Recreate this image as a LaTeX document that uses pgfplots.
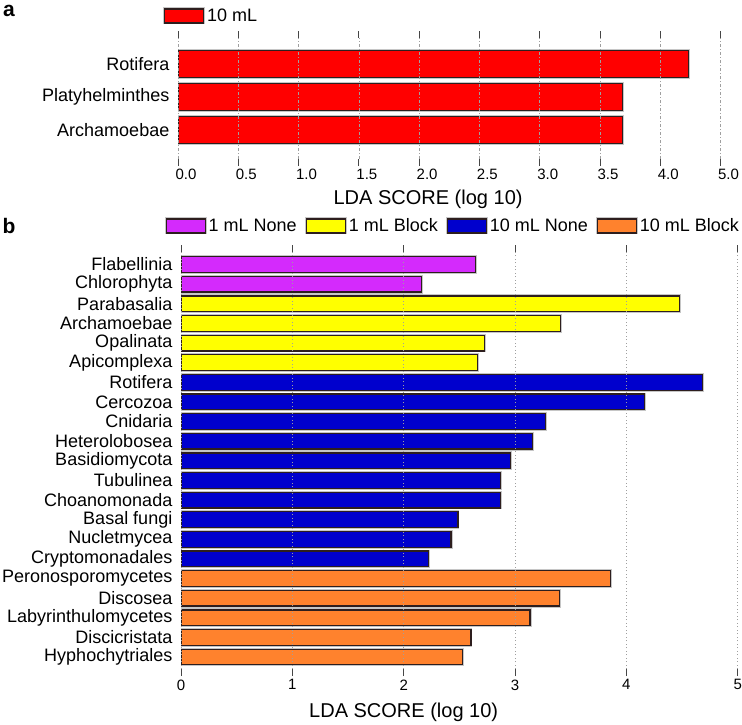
\documentclass[border=0pt]{standalone}
\usepackage{pgfplots}
\pgfplotsset{compat=1.18}
\usepackage{fontspec}
\setmainfont{Liberation Sans}
\definecolor{cRed}{RGB}{255,0,0}
\definecolor{cPurple}{RGB}{212,42,252}
\definecolor{cYellow}{RGB}{255,255,0}
\definecolor{cBlue}{RGB}{0,0,205}
\definecolor{cOrange}{RGB}{255,130,45}
\definecolor{cEdge}{RGB}{45,30,30}
\newcommand{\fs}[1]{\fontsize{#1bp}{#1bp}\selectfont}
\pgfplotsset{
  barstyle/.style={draw=cEdge, line width=1.2bp, preaction={draw=gray!45, line width=3bp}},
  boxlegend/.style={legend image code/.code={\draw[##1, line width=1.2bp] (0bp,-7bp) rectangle (39bp,7bp);}},
  common/.style={
    scale only axis, xbar, bar shift=0pt,
    axis line style={draw=none},
    tick align=outside, major tick length=7bp,
    xtick pos=both, xticklabel pos=lower,
    ytick pos=left,
    xtick style={draw=gray!55!black, line width=0.8bp},
    ytick style={draw=none},
    xmajorgrids, axis on top,
    yticklabel style={font=\fs{18}, inner sep=0pt, xshift=-1.5bp},
    xticklabel style={font=\fs{15}},
    xlabel style={font=\fs{20}, anchor=center},
    legend style={draw=none, fill=none, inner sep=0pt, font=\fs{18},
      nodes={inner sep=2bp}, anchor=west,
      /tikz/every even column/.append style={column sep=6bp}},
    legend cell align=left,
  },
}
\begin{document}
\begin{tikzpicture}[x=1bp,y=1bp]
\useasboundingbox (0,-725) rectangle (742,0);
\node[font=\bfseries\fs{21}] at (9,-11) {a};
\node[font=\bfseries\fs{21}] at (9,-226) {b};

\begin{axis}[common,
  at={(178bp,-159bp)}, anchor=south west,
  width=542.5bp, height=121bp,
  bar width=0.81,
  xmin=0, xmax=4.5, ymin=-0.88, ymax=2.79,
  xtick={0,0.5,1,1.5,2,2.5,3,3.5,4,4.5},
  xticklabels={0.0,0.5,1.0,1.5,2.0,2.5,3.0,3.5,4.0,5.0},
  xticklabel style={xshift=8bp},
  ytick={0,1,2},
  yticklabels={Archamoebae,Platyhelminthes,Rotifera},
  major grid style={draw=gray!75, line width=0.6bp, dash pattern=on 3bp off 2bp on 1bp off 2bp},
  xlabel={LDA SCORE (log 10)},
  xlabel style={at={(axis description cs:0.461,-0.33)}},
  legend style={at={(axis description cs:-0.0276,1.182)}},
]
\addplot[barstyle, fill=cRed, boxlegend] coordinates {(3.685,0) (3.687,1) (4.235,2)};
\addlegendentry{10 mL}
\end{axis}

\begin{axis}[common,
  at={(181bp,-669bp)}, anchor=south west,
  width=556.7bp, height=417bp,
  bar width=0.8,
  xmin=0, xmax=5, ymin=-0.61, ymax=20.64,
  xtick={0,1,2,3,4,5},
  xticklabels={0,1,2,3,4,5},
  ytick={0,...,20},
  yticklabels={Hyphochytriales,Discicristata,Labyrinthulomycetes,Discosea,Peronosporomycetes,Cryptomonadales,Nucletmycea,Basal fungi,Choanomonada,Tubulinea,Basidiomycota,Heterolobosea,Cnidaria,Cercozoa,Rotifera,Apicomplexa,Opalinata,Archamoebae,Parabasalia,Chlorophyta,Flabellinia},
  major grid style={draw=gray!75, line width=0.7bp, dash pattern=on 1bp off 2.5bp},
  xlabel={LDA SCORE (log 10)},
  xlabel style={at={(axis description cs:0.40,-0.103)}},
  legend columns=4,
  legend style={at={(axis description cs:-0.0296,1.0624)}},
]
\addplot[barstyle, fill=cPurple, boxlegend] coordinates {(2.162,19) (2.647,20)};
\addlegendentry{1 mL None}
\addplot[barstyle, fill=cYellow, boxlegend] coordinates {(2.664,15) (2.723,16) (3.405,17) (4.479,18)};
\addlegendentry{1 mL Block}
\addplot[barstyle, fill=cBlue, boxlegend] coordinates {(2.225,5) (2.425,6) (2.487,7) (2.869,8) (2.869,9) (2.957,10) (3.157,11) (3.274,12) (4.165,13) (4.685,14)};
\addlegendentry{10 mL None}
\addplot[barstyle, fill=cOrange, boxlegend] coordinates {(2.525,0) (2.604,1) (3.135,2) (3.396,3) (3.855,4)};
\addlegendentry{10 mL Block}
\end{axis}
\end{tikzpicture}
\end{document}
